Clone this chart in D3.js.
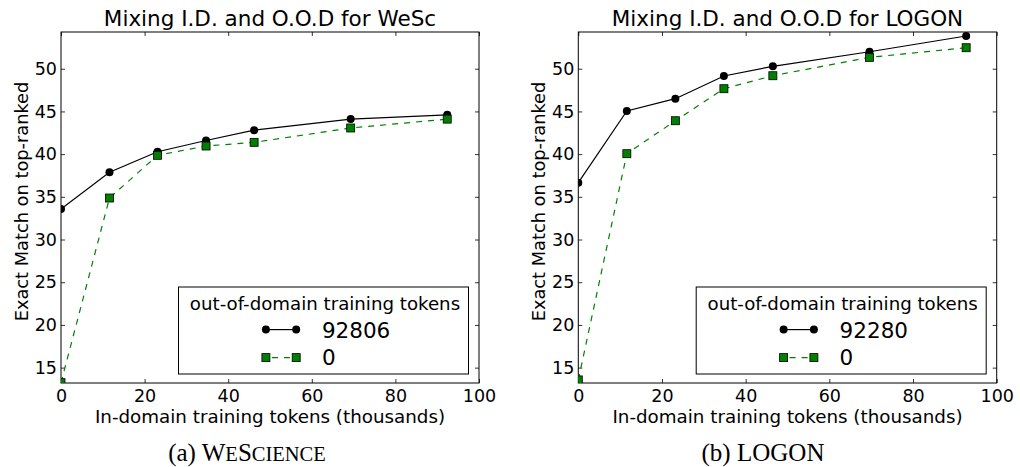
<!DOCTYPE html>
<html><head><meta charset="utf-8">
<script src="https://cdn.jsdelivr.net/npm/d3@7/dist/d3.min.js"></script>
<style>body{margin:0;background:#fff}svg{display:block}</style>
</head><body>
<svg id="chart" width="1020" height="467"></svg>
<script>
// ---- data (thousands of in-domain tokens vs exact match %) ----
const wescX = [0, 11.6, 23.1, 34.7, 46.2, 69.3, 92.4];
const wescWithOOD = [33.57, 37.87, 40.28, 41.6, 42.8, 44.1, 44.6];
const wescNoOOD = [13.24, 34.86, 39.86, 40.95, 41.38, 43.06, 44.1];
const logonX = [0, 11.6, 23.2, 34.8, 46.5, 69.6, 92.7];
const logonWithOOD = [36.65, 45.05, 46.49, 49.15, 50.28, 51.99, 53.83];
const logonNoOOD = [13.56, 40.05, 43.91, 47.66, 49.18, 51.33, 52.46];
const xTicks = [0, 20, 40, 60, 80, 100];
const yTicks = [15, 20, 25, 30, 35, 40, 45, 50];
const xDomain = [0, 100];
const yDomain = [13.2, 54.3];
const titles = ["Mixing I.D. and O.O.D for WeSc", "Mixing I.D. and O.O.D for LOGON"];
const legendTitle = "out-of-domain training tokens";
const oodLabels = [["92806", "0"], ["92280", "0"]];
const xLabel = "In-domain training tokens (thousands)";
const yLabel = "Exact Match on top-ranked";

const panels = [
  {x: wescX, a: wescWithOOD, b: wescNoOOD, left: 61, right: 479, title: titles[0], labels: oodLabels[0]},
  {x: logonX, a: logonWithOOD, b: logonNoOOD, left: 578.3, right: 996.7, title: titles[1], labels: oodLabels[1]}
];
const plotTop = 32, plotBottom = 383;
const font = "'DejaVu Sans', sans-serif";
const green = "#008000";
const svg = d3.select("#chart");

panels.forEach((p, i) => {
  const x = d3.scaleLinear().domain(xDomain).range([p.left, p.right]);
  const y = d3.scaleLinear().domain(yDomain).range([plotBottom, plotTop]);
  const g = svg.append("g");
  const clipId = "clip" + i;
  svg.append("clipPath").attr("id", clipId).append("rect")
    .attr("x", p.left).attr("y", plotTop).attr("width", p.right - p.left).attr("height", plotBottom - plotTop);

  const tickStyle = sel => {
    sel.select(".domain").remove();
    sel.selectAll(".tick line").attr("stroke", "#333").attr("stroke-width", 1);
    sel.selectAll("text").attr("font-family", font).attr("font-size", "17.5px").attr("fill", "#000");
  };
  g.append("g").attr("transform", `translate(0,${plotBottom})`)
    .call(d3.axisBottom(x).tickValues(xTicks).tickFormat(d3.format("d")).tickSizeInner(-4))
    .call(tickStyle).call(s => s.selectAll("text").attr("dy", "0.71em").attr("y", 7));
  g.append("g").attr("transform", `translate(0,${plotTop})`)
    .call(d3.axisTop(x).tickValues(xTicks).tickFormat("").tickSizeInner(-4)).call(tickStyle);
  g.append("g").attr("transform", `translate(${p.left},0)`)
    .call(d3.axisLeft(y).tickValues(yTicks).tickFormat(d3.format("d")).tickSizeInner(-4))
    .call(tickStyle).call(s => s.selectAll("text").attr("x", -4));
  g.append("g").attr("transform", `translate(${p.right},0)`)
    .call(d3.axisRight(y).tickValues(yTicks).tickFormat("").tickSizeInner(-4)).call(tickStyle);

  g.append("rect").attr("x", p.left).attr("y", plotTop).attr("width", p.right - p.left).attr("height", plotBottom - plotTop)
    .attr("fill", "none").attr("stroke", "#000").attr("stroke-width", 1);

  const dataA = p.x.map((v, k) => [v, p.a[k]]);
  const dataB = p.x.map((v, k) => [v, p.b[k]]);
  const line = d3.line().x(d => x(d[0])).y(d => y(d[1]));
  const plot = g.append("g").attr("clip-path", `url(#${clipId})`);
  plot.append("path").datum(dataA).attr("d", line).attr("fill", "none").attr("stroke", "#000").attr("stroke-width", 1.2);
  plot.selectAll("circle").data(dataA).join("circle")
    .attr("cx", d => x(d[0])).attr("cy", d => y(d[1])).attr("r", 4).attr("fill", "#000");
  plot.append("path").datum(dataB).attr("d", line).attr("fill", "none").attr("stroke", green)
    .attr("stroke-width", 1.2).attr("stroke-dasharray", "6,6");
  plot.selectAll("rect.sq").data(dataB).join("rect").attr("class", "sq")
    .attr("x", d => x(d[0]) - 4).attr("y", d => y(d[1]) - 4).attr("width", 8).attr("height", 8)
    .attr("fill", green).attr("stroke", "#000").attr("stroke-width", 0.8);

  g.append("text").attr("x", (p.left + p.right) / 2).attr("y", 26).attr("text-anchor", "middle")
    .attr("font-family", font).attr("font-size", "21.5px").text(p.title);
  g.append("text").attr("x", (p.left + p.right) / 2).attr("y", 423).attr("text-anchor", "middle")
    .attr("font-family", font).attr("font-size", "18.3px").text(xLabel);
  g.append("text").attr("transform", `translate(${p.left - 33},${(plotTop + plotBottom) / 2 - 6}) rotate(-90)`)
    .attr("text-anchor", "middle").attr("font-family", font).attr("font-size", "17.8px").text(yLabel);

  const lw = 290, lh = 87;
  const lx = p.right - 10.5 - lw, ly = plotBottom - 9 - lh;
  const lg = g.append("g").attr("transform", `translate(${lx},${ly})`);
  lg.append("rect").attr("width", lw).attr("height", lh).attr("fill", "#fff").attr("stroke", "#000").attr("stroke-width", 1);
  lg.append("text").attr("x", lw / 2 + 1.5).attr("y", 22.5).attr("text-anchor", "middle")
    .attr("font-family", font).attr("font-size", "18.2px").text(legendTitle);
  const mx0 = 87.4, mx1 = 117.7;
  lg.append("line").attr("x1", mx0).attr("x2", mx1).attr("y1", 42.6).attr("y2", 42.6).attr("stroke", "#000").attr("stroke-width", 1.2);
  [mx0, mx1].forEach(mx => lg.append("circle").attr("cx", mx).attr("cy", 42.6).attr("r", 4).attr("fill", "#000"));
  lg.append("text").attr("x", 143.4).attr("y", 50.6).attr("font-family", font).attr("font-size", "21.5px").text(p.labels[0]);
  lg.append("line").attr("x1", mx0).attr("x2", mx1).attr("y1", 70.6).attr("y2", 70.6).attr("stroke", green)
    .attr("stroke-width", 1.2).attr("stroke-dasharray", "6,6").attr("stroke-dashoffset", -6);
  [mx0, mx1].forEach(mx => lg.append("rect").attr("x", mx - 4).attr("y", 66.6).attr("width", 8).attr("height", 8)
    .attr("fill", green).attr("stroke", "#000").attr("stroke-width", 0.8));
  lg.append("text").attr("x", 143.4).attr("y", 77.5).attr("font-family", font).attr("font-size", "21.5px").text(p.labels[1]);
});

const serif = "'Liberation Serif', 'Times New Roman', serif";
const cap1 = svg.append("text").attr("x", 247).attr("y", 461).attr("text-anchor", "middle")
  .attr("font-family", serif).attr("font-size", "25px");
cap1.append("tspan").text("(a) W");
cap1.append("tspan").attr("font-size", "20.5px").text("E");
cap1.append("tspan").text("S");
cap1.append("tspan").attr("font-size", "20.5px").text("CIENCE");
svg.append("text").attr("x", 763).attr("y", 461).attr("text-anchor", "middle")
  .attr("font-family", serif).attr("font-size", "25px").text("(b) LOGON");
</script>
</body></html>
